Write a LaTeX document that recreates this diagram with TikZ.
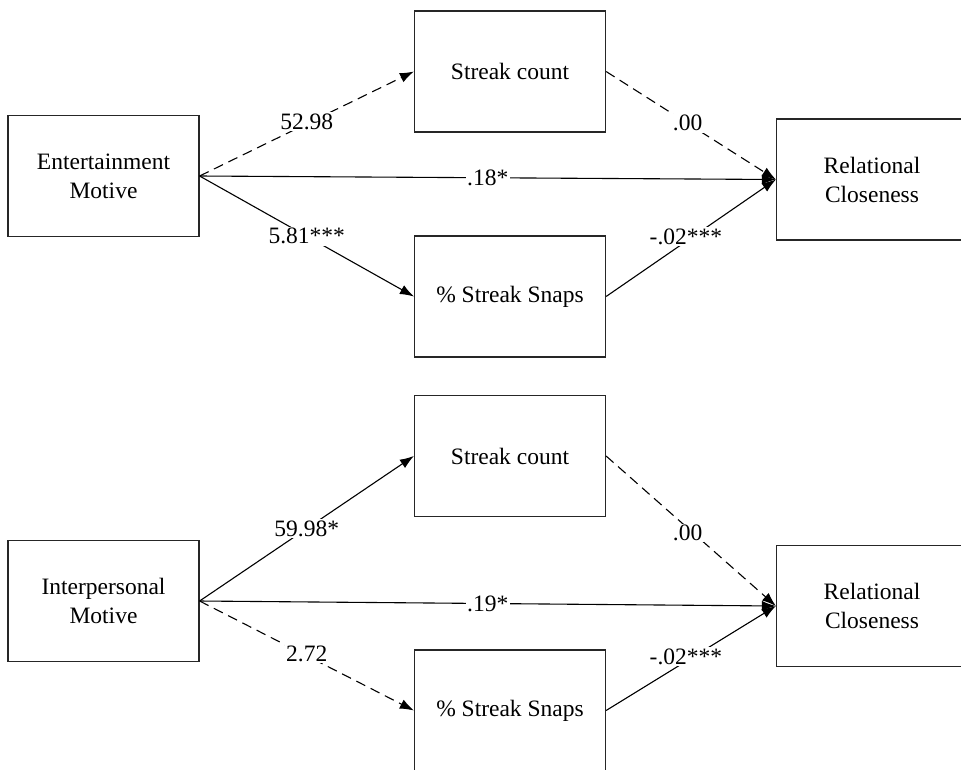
\documentclass[tikz,border=0pt]{standalone}
\usepackage{fontspec}
\setmainfont{Liberation Serif}
\usetikzlibrary{arrows.meta}
\begin{document}
\begin{tikzpicture}[x=1pt,y=-1pt,
  box/.style={draw=black!85,line width=1.2pt,minimum width=191pt,minimum height=121pt,inner sep=0pt,align=center,font=\fontsize{23.5}{29}\selectfont},
  path/.style={line width=1.1pt,-{Latex[length=14pt,width=10pt]}},
  dsh/.style={dash pattern=on 10pt off 6pt},
  lab/.style={fill=white,inner sep=1.5pt,font=\fontsize{23.5}{28}\selectfont}]
\clip (0,0) rectangle (961,769);
\useasboundingbox (0,0) rectangle (961,769);
% top group
\node[box] (em) at (103.5,176) {Entertainment\\Motive};
\node[box] (sc1) at (510,71.5) {Streak count};
\node[box] (ss1) at (510,296.5) {\% Streak Snaps};
\node[box] (rc1) at (872,179.5) {Relational\\Closeness};
\draw[path,dsh] (em.east) -- node[lab,yshift=2pt] {52.98} (sc1.west);
\draw[path] (em.east) -- node[lab] {5.81***} (ss1.west);
\draw[path] (em.east) -- node[lab] {.18*} (rc1.west);
\draw[path,dsh] (sc1.east) -- node[lab,pos=0.48] {.00} (rc1.west);
\draw[path] (ss1.east) -- node[lab,pos=0.47,yshift=5pt] {-.02***} (rc1.west);
% bottom group
\node[box] (im) at (103.5,601) {Interpersonal\\Motive};
\node[box] (sc2) at (510,456) {Streak count};
\node[box] (ss2) at (510,710.5) {\% Streak Snaps};
\node[box] (rc2) at (872,606) {Relational\\Closeness};
\draw[path] (im.east) -- node[lab] {59.98*} (sc2.west);
\draw[path,dsh] (im.east) -- node[lab,yshift=2pt] {2.72} (ss2.west);
\draw[path] (im.east) -- node[lab] {.19*} (rc2.west);
\draw[path,dsh] (sc2.east) -- node[lab,pos=0.48,yshift=-5pt] {.00} (rc2.west);
\draw[path] (ss2.east) -- node[lab,pos=0.47,yshift=5pt] {-.02***} (rc2.west);
\end{tikzpicture}
\end{document}
